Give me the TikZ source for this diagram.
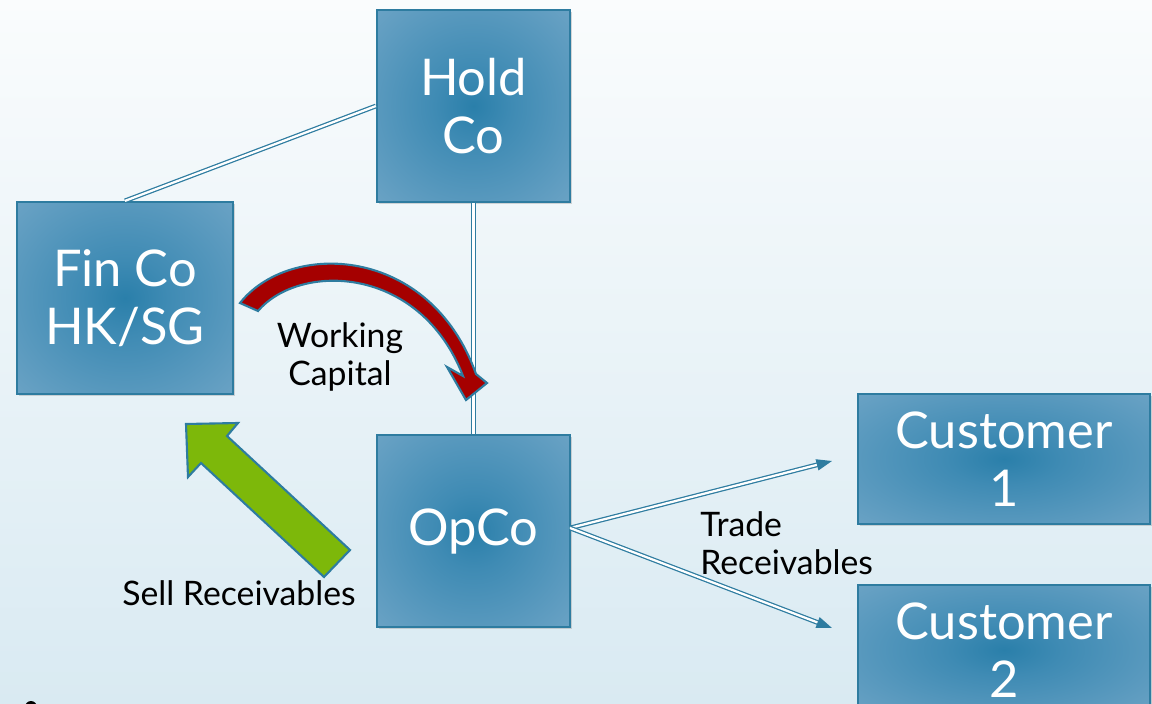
\documentclass[tikz,border=0pt]{standalone}
\usepackage{fontspec}
\setmainfont{Lato}
\usetikzlibrary{arrows.meta,shadows}
\definecolor{bgtop}{HTML}{FAFCFD}
\definecolor{bgbot}{HTML}{D9EAF2}
\definecolor{edgeblue}{HTML}{2E7CA0}
\definecolor{cA}{HTML}{2A7FAA}
\definecolor{cB}{HTML}{3F8BB4}
\definecolor{cC}{HTML}{6BA3C5}
\definecolor{cD}{HTML}{ABC8DB}
\definecolor{wcred}{HTML}{A50000}
\definecolor{srgreen}{HTML}{7DB80A}
\pgfdeclareradialshading{boxshade}{\pgfpoint{0bp}{0bp}}{color(0bp)=(cA); color(10bp)=(cB); color(36bp)=(cC); color(71bp)=(cD)}
\newlength\pxl
\setlength\pxl{0.025cm}
\tikzset{
  boxnode/.style={draw=edgeblue, line width=1.6pt, shading=boxshade, rectangle,
    text=white, font=\fontsize{36}{41}\selectfont, align=center, inner sep=0pt,
    drop shadow={opacity=0.3, shadow xshift=1.5pt, shadow yshift=-1.5pt}},
  dbl/.style={draw=edgeblue, line width=0.9pt, double=white, double distance=1.6pt},
  lbl/.style={text=black, font=\fontsize{24}{27}\selectfont, inner sep=0pt},
  blockarrow/.style={draw=edgeblue, line width=1.5pt, line join=miter}
}
\begin{document}
\begin{tikzpicture}[x=0.025cm, y=-0.025cm]
\useasboundingbox (0,0) rectangle (1152,704);
\clip (0,0) rectangle (1152,704);
\shade[top color=bgtop, bottom color=bgbot] (0,0) rectangle (1152,704);

\node[boxnode, minimum width=193\pxl, minimum height=192\pxl] (hold) at (473.5,106) {Hold\\Co};
\node[boxnode, minimum width=216\pxl, minimum height=192\pxl] (fin) at (125,298) {Fin Co\\HK/SG};
\node[boxnode, minimum width=193\pxl, minimum height=192\pxl] (opco) at (473.5,531) {OpCo};
\node[boxnode, minimum width=292\pxl, minimum height=130\pxl] (cust1) at (1004,459) {Customer\\1};
\node[boxnode, minimum width=292\pxl, minimum height=130\pxl] (cust2) at (1004,650) {Customer\\2};

\coordinate (t1) at (832,461);
\coordinate (t2) at (832,628);
\coordinate (o1) at (570,528);

\draw[dbl] (hold.west) -- (fin.north);
\draw[dbl] (hold.south) -- (opco.north);
\draw[dbl, -{Triangle[length=11pt,width=8pt]}] (o1) -- (t1);
\draw[dbl, -{Triangle[length=11pt,width=8pt]}] (o1) -- (t2);

% Working capital curved arrow
\path[blockarrow, fill=wcred]
  (240,303) .. controls (290,240) and (430,245) .. (476,374)
  -- (487,383) -- (466,400) -- (447,367) -- (463,376)
  .. controls (420,265) and (300,262) .. (258,311) -- cycle;

% Sell receivables block arrow
\path[blockarrow, fill=srgreen]
  (186,424) -- (238,423) -- (227,436) -- (350,550) -- (324,577) -- (201,463) -- (188,477) -- cycle;

\node[lbl, align=center] (wc) at (340,357) {Working\\Capital};
\node[lbl] (sr) at (239,593) {Sell Receivables};
\node[lbl, align=left, anchor=west] (tr) at (700,543) {Trade\\Receivables};

\fill[black] (31,707) circle (6);
\end{tikzpicture}
\end{document}
